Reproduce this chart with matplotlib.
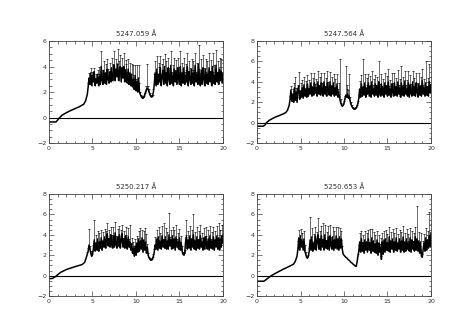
import numpy as np
import matplotlib.pyplot as plt
from matplotlib.ticker import MultipleLocator

titles = ["5247.059 Å", "5247.564 Å", "5250.217 Å", "5250.653 Å"]
ylims = [(-2, 6), (-2, 8), (-2, 8), (-2, 8)]

# ---- 5247.059 ----
smooth_x_1 = [0, 0.8, 1.0, 1.2, 1.5, 2.0, 2.5, 3.0, 3.5, 4.0, 4.2, 4.4]
smooth_y_1 = [-0.35, -0.35, -0.2, -0.02, 0.18, 0.38, 0.55, 0.7, 0.85, 1.05, 1.3, 1.8]
noisy_start_1 = 4.5  # noisy samples every 0.1 up to 20
noisy_y_1 = [
    2.4, 3.1, 2.6, 3.5, 2.5, 3.3, 2.8, 3.6, 2.5, 3.0,
    2.7, 3.4, 2.5, 3.2, 2.6, 4.0, 2.9, 2.6, 3.7, 2.7,
    3.5, 2.6, 3.8, 3.0, 2.7, 3.6, 2.8, 3.9, 2.9, 3.4,
    4.1, 2.9, 3.8, 3.2, 4.2, 2.9, 3.6, 4.0, 2.8, 3.9,
    3.1, 4.0, 2.8, 3.7, 3.3, 2.7, 3.8, 2.6, 3.5, 2.5,
    3.4, 2.4, 3.0, 2.2, 3.3, 2.1, 2.8, 2.0, 3.1, 2.0,
    1.8, 1.65, 1.55, 1.5, 1.6, 1.8, 2.0, 2.2, 2.3, 2.2,
    2.0, 1.8, 1.65, 1.6, 1.7, 2.0, 2.6, 3.5, 2.5, 3.8,
    2.6, 3.4, 2.8, 3.9, 2.5, 3.2, 3.7, 2.6, 4.0, 2.7,
    3.5, 2.5, 3.9, 3.0, 2.6, 4.1, 2.7, 3.3, 2.5, 3.8,
    2.8, 3.6, 2.6, 3.9, 3.1, 2.6, 4.0, 2.5, 3.5, 2.7,
    3.9, 2.6, 3.3, 2.8, 4.0, 2.5, 3.6, 3.0, 2.6, 3.8,
    2.7, 3.5, 2.5, 4.1, 2.8, 3.4, 2.6, 4.2, 2.9, 2.5,
    3.7, 2.6, 3.9, 3.0, 2.5, 3.8, 2.7, 3.4, 2.6, 3.9,
    2.8, 3.6, 2.5, 4.0, 2.7, 3.3, 2.6, 4.1, 2.8, 3.5,
    2.6, 3.8, 2.9, 3.6, 2.7, 3.4,
]
noisy_err_1 = [
    0.3, 0.4, 0.3, 0.4, 0.5, 0.3, 0.4, 0.3, 0.6, 0.4,
    0.7, 0.3, 0.9, 0.8, 0.7, 1.2, 0.8, 0.9, 0.7, 0.8,
    0.7, 0.9, 0.8, 0.8, 0.9, 0.7, 1.0, 0.8, 0.9, 0.8,
    1.1, 0.9, 0.8, 1.0, 1.2, 0.9, 0.8, 0.9, 1.0, 0.8,
    0.9, 1.1, 1.0, 0.8, 0.9, 0.9, 0.8, 0.9, 0.8, 0.9,
    0.8, 0.9, 1.1, 0.8, 0.8, 0.9, 1.3, 0.8, 1.0, 0.7,
    0.2, 0.1, 0.1, 0.1, 0.1, 0.1, 0.2, 0.3, 1.9, 0.3,
    0.2, 0.1, 0.1, 0.1, 0.1, 0.2, 0.8, 0.9, 0.9, 1.0,
    0.8, 0.9, 1.2, 0.9, 0.8, 1.0, 0.9, 0.8, 1.0, 0.9,
    0.9, 1.0, 0.8, 0.9, 1.1, 1.1, 0.9, 0.8, 1.0, 0.9,
    0.9, 0.9, 1.1, 0.8, 0.9, 1.0, 1.2, 0.9, 0.8, 0.9,
    0.8, 1.0, 0.9, 0.9, 1.1, 0.9, 0.8, 0.9, 1.1, 0.8,
    1.0, 0.9, 0.9, 1.0, 0.8, 0.9, 1.0, 1.5, 0.9, 1.0,
    0.9, 0.8, 1.0, 0.9, 0.9, 0.8, 0.9, 1.0, 0.9, 1.2,
    0.8, 0.9, 1.0, 1.1, 0.9, 0.8, 1.0, 1.2, 0.8, 0.9,
    1.0, 0.9, 0.8, 1.0, 0.9, 0.9,
]

# ---- 5247.564 ----
smooth_x_2 = [0, 0.7, 0.9, 1.1, 1.4, 2.0, 2.5, 3.0, 3.3, 3.5, 3.7]
smooth_y_2 = [-0.35, -0.35, -0.25, 0.0, 0.22, 0.5, 0.68, 0.85, 0.98, 1.2, 1.7]
noisy_start_2 = 3.8
noisy_y_2 = [
    2.3, 3.2, 2.1, 2.8, 2.0, 3.4, 2.2, 3.0, 2.0, 3.3,
    3.6, 2.3, 3.1, 2.5, 3.4, 2.4, 3.7, 2.6, 3.2, 2.5,
    3.8, 2.6, 3.3, 2.8, 3.9, 2.6, 3.5, 2.7, 3.9, 2.9,
    3.4, 2.6, 4.0, 2.8, 3.6, 2.7, 3.9, 3.0, 2.6, 4.0,
    2.8, 3.5, 2.6, 3.9, 3.1, 2.7, 4.0, 2.6, 3.6, 2.8,
    3.9, 2.6, 3.4, 2.7, 3.8, 2.5, 3.0, 2.4, 2.0, 1.75,
    1.6, 1.7, 1.9, 2.3, 2.7, 2.5, 2.8, 2.4, 2.6, 2.1,
    1.8, 1.6, 1.45, 1.35, 1.3, 1.35, 1.45, 1.6, 1.9, 2.4,
    3.3, 2.5, 3.8, 2.6, 3.5, 2.7, 3.9, 2.5, 3.4, 2.8,
    3.9, 2.6, 3.6, 2.5, 4.0, 2.8, 3.3, 2.6, 3.8, 2.7,
    3.6, 2.5, 4.0, 2.9, 2.6, 3.8, 2.7, 3.4, 2.5, 3.9,
    2.8, 3.6, 2.6, 4.0, 2.7, 3.3, 2.5, 3.8, 3.0, 2.6,
    3.9, 2.7, 3.5, 2.6, 4.0, 2.8, 3.4, 2.5, 3.9, 2.7,
    3.6, 2.6, 4.1, 2.8, 3.3, 2.6, 3.9, 2.5, 3.7, 2.9,
    2.6, 4.0, 2.7, 3.5, 2.6, 3.9, 3.0, 2.5, 3.8, 2.7,
    3.6, 2.6, 4.1, 2.8, 3.4, 2.6, 3.9, 2.7, 3.5, 2.6,
    4.0, 2.9, 3.6,
]
noisy_err_2 = [
    0.3, 0.4, 0.3, 0.5, 0.4, 0.5, 2.3, 0.4, 0.5, 0.4,
    1.4, 0.7, 0.8, 0.7, 0.8, 0.7, 0.8, 0.8, 0.9, 0.8,
    0.9, 0.8, 0.9, 0.8, 1.0, 0.8, 0.9, 0.8, 1.0, 0.9,
    0.9, 0.8, 1.1, 0.9, 0.9, 0.8, 1.0, 0.9, 0.8, 0.9,
    0.8, 0.9, 0.8, 1.2, 0.9, 0.8, 1.0, 0.8, 0.9, 0.9,
    0.9, 0.8, 0.9, 0.8, 1.0, 0.8, 0.9, 3.8, 0.3, 0.2,
    0.1, 0.1, 0.2, 0.3, 2.9, 0.8, 0.9, 0.8, 2.2, 0.4,
    0.2, 0.1, 0.1, 0.1, 0.1, 0.1, 0.1, 0.1, 0.2, 0.4,
    0.8, 0.9, 0.9, 0.8, 2.7, 0.9, 0.9, 0.8, 1.0, 0.9,
    0.9, 0.8, 1.0, 0.9, 1.1, 0.9, 1.0, 0.8, 0.9, 1.0,
    0.9, 0.8, 2.0, 0.9, 0.8, 1.0, 0.9, 0.9, 0.8, 1.0,
    0.9, 1.0, 0.8, 1.3, 0.9, 0.9, 0.8, 1.1, 0.9, 0.8,
    1.0, 0.9, 0.9, 0.8, 1.2, 0.9, 0.9, 0.8, 1.7, 0.9,
    0.9, 0.8, 1.0, 0.9, 0.9, 0.8, 1.2, 0.9, 1.0, 0.9,
    0.8, 1.1, 0.9, 0.9, 0.8, 1.0, 0.9, 0.8, 1.1, 0.9,
    0.9, 0.8, 1.2, 0.9, 0.9, 0.8, 2.1, 0.9, 0.9, 0.8,
    1.7, 0.9, 0.9,
]

# ---- 5250.217 ----
smooth_x_3 = [0, 0.4, 0.6, 0.8, 1.0, 1.3, 2.0, 3.0, 3.8, 4.1, 4.3]
smooth_y_3 = [-0.3, -0.28, -0.18, -0.05, 0.08, 0.3, 0.6, 0.88, 1.08, 1.3, 1.8]
noisy_start_3 = 4.4
noisy_y_3 = [
    2.1, 2.4, 3.0, 2.6, 2.2, 1.9, 2.1, 2.6, 3.5, 2.4,
    3.2, 2.5, 3.6, 2.4, 3.3, 2.7, 3.7, 2.5, 3.4, 2.8,
    3.8, 2.7, 3.5, 4.1, 2.9, 3.6, 2.8, 4.0, 3.1, 2.7,
    3.9, 2.8, 4.2, 3.0, 2.7, 3.8, 2.9, 4.0, 2.7, 3.5,
    4.1, 2.8, 3.6, 2.7, 3.9, 3.2, 2.6, 3.8, 2.8, 3.3,
    2.5, 3.1, 2.2, 2.7, 1.9, 2.9, 2.0, 3.2, 2.3, 3.6,
    2.4, 3.4, 2.6, 3.7, 2.3, 3.5, 2.5, 3.3, 2.2, 2.8,
    2.0, 1.75, 1.6, 1.5, 1.55, 1.7, 1.9, 2.3, 3.0, 2.6,
    3.6, 2.5, 3.8, 2.7, 3.3, 2.6, 3.9, 2.8, 3.5, 2.7,
    3.8, 2.6, 3.4, 2.6, 4.0, 2.9, 3.5, 2.6, 3.9, 2.7,
    3.6, 2.5, 3.8, 2.8, 3.3, 2.6, 3.7, 2.5, 3.2, 2.4,
    2.1, 2.0, 2.2, 3.3, 3.8, 2.6, 3.5, 2.7, 3.9, 2.5,
    3.6, 2.8, 4.0, 2.6, 3.4, 2.5, 3.8, 2.7, 3.5, 2.6,
    3.9, 2.8, 3.3, 2.5, 3.7, 2.6, 3.8, 3.0, 2.6, 3.6,
    2.5, 3.9, 2.7, 3.4, 2.6, 3.8, 2.5, 3.5, 2.8, 3.9,
    2.6, 3.7, 2.5, 3.6, 2.8, 3.9, 3.2,
]
noisy_err_3 = [
    0.2, 0.3, 1.6, 0.3, 0.2, 0.2, 0.3, 0.4, 2.0, 0.4,
    0.8, 0.7, 0.8, 0.8, 0.9, 0.7, 0.8, 0.8, 0.9, 0.8,
    0.8, 0.9, 0.9, 1.1, 0.8, 0.9, 0.9, 0.8, 0.9, 0.9,
    0.9, 0.8, 1.1, 0.9, 0.9, 0.8, 1.0, 0.9, 0.9, 1.0,
    0.9, 0.9, 0.8, 1.0, 0.9, 0.8, 1.0, 0.9, 0.8, 1.7,
    0.7, 0.6, 0.7, 0.6, 0.6, 0.7, 0.6, 0.7, 0.7, 0.8,
    0.7, 1.3, 0.8, 0.8, 0.8, 0.9, 2.2, 0.8, 0.6, 0.3,
    0.2, 0.1, 0.1, 0.1, 0.1, 0.1, 0.2, 0.3, 0.8, 0.8,
    0.9, 0.8, 1.0, 0.8, 0.9, 0.8, 1.0, 0.8, 1.7, 0.9,
    0.9, 0.8, 0.9, 0.8, 2.1, 0.9, 1.0, 0.8, 0.9, 0.9,
    0.9, 0.9, 1.2, 0.8, 0.9, 0.8, 0.9, 0.8, 0.7, 0.5,
    0.2, 0.2, 0.3, 0.7, 1.7, 0.9, 0.9, 0.8, 1.0, 0.9,
    0.9, 0.8, 2.0, 0.9, 0.9, 0.8, 1.0, 0.9, 0.9, 0.8,
    1.1, 0.9, 0.9, 0.8, 1.0, 0.9, 1.0, 0.9, 0.8, 0.9,
    0.9, 1.0, 0.9, 0.9, 0.8, 1.0, 0.9, 0.9, 0.8, 1.0,
    0.9, 1.5, 0.9, 0.9, 0.8, 1.1, 0.9,
]

# ---- 5250.653 ----
smooth_x_4 = [0, 0.8, 1.0, 1.2, 1.6, 2.0, 3.0, 3.7, 4.2, 4.4, 4.6]
smooth_y_4 = [-0.55, -0.55, -0.42, -0.28, -0.03, 0.17, 0.62, 0.9, 1.12, 1.4, 1.9]
noisy_start_4 = 4.7
noisy_y_4 = [
    2.6, 3.7, 2.5, 3.9, 2.8, 3.4, 2.5, 3.6, 2.4, 2.1,
    1.8, 1.7, 1.9, 2.4, 3.5, 2.5, 3.8, 2.4, 3.2, 2.6,
    3.9, 2.5, 3.4, 4.0, 2.6, 3.6, 2.5, 3.9, 2.8, 3.5,
    2.5, 4.0, 2.7, 3.4, 2.6, 3.8, 2.5, 3.9, 2.9, 2.6,
    3.8, 2.5, 3.5, 2.7, 3.9, 2.6, 3.6, 2.5, 3.8, 2.7,
    3.6, 2.6, 2.1, 2.0, 1.9, 1.8, 1.75, 1.65, 1.55, 1.5,
    1.4, 1.3, 1.25, 1.15, 1.1, 1.0, 0.95, 0.9, 1.3, 1.9,
    2.4, 3.3, 2.3, 3.6, 2.4, 3.2, 2.2, 3.5, 2.5, 3.3,
    2.3, 3.6, 2.5, 3.2, 2.2, 3.7, 2.4, 3.4, 2.3, 3.1,
    2.2, 3.5, 2.0, 3.2, 2.3, 2.8, 1.6, 3.3, 2.1, 3.5,
    2.3, 3.6, 2.5, 3.2, 2.4, 3.8, 2.3, 3.4, 2.6, 3.6,
    2.3, 3.3, 2.5, 3.7, 2.4, 3.2, 2.6, 3.6, 2.3, 3.4,
    2.5, 3.8, 2.3, 3.3, 2.4, 3.6, 2.6, 3.2, 2.4, 3.7,
    2.3, 3.5, 2.6, 3.3, 2.4, 3.8, 2.5, 3.6, 2.4, 3.4,
    2.2, 3.3, 1.9, 1.8, 2.6, 3.2, 2.4, 3.7, 2.5, 3.5,
    2.7, 3.9, 2.8, 4.2,
]
noisy_err_4 = [
    0.8, 0.8, 0.9, 0.7, 0.8, 0.8, 0.9, 0.8, 0.6, 0.2,
    0.1, 0.1, 0.1, 0.3, 2.2, 0.8, 0.9, 0.8, 0.9, 0.8,
    0.9, 0.8, 0.9, 1.6, 0.9, 0.8, 0.9, 1.0, 0.8, 1.7,
    0.9, 1.0, 0.8, 0.9, 0.9, 1.1, 0.8, 1.1, 0.9, 0.8,
    1.0, 0.8, 0.9, 0.8, 0.9, 0.8, 1.2, 0.8, 0.9, 0.8,
    0.8, 0.3, 0.0, 0.0, 0.0, 0.0, 0.0, 0.0, 0.0, 0.0,
    0.0, 0.0, 0.0, 0.0, 0.0, 0.0, 0.0, 0.0, 0.0, 0.2,
    0.6, 0.9, 0.8, 0.8, 0.9, 0.8, 0.8, 0.9, 0.8, 0.9,
    0.8, 0.9, 0.8, 1.4, 0.8, 0.9, 0.8, 0.9, 0.8, 0.9,
    0.8, 0.9, 0.7, 0.8, 0.8, 0.9, 0.3, 0.9, 0.8, 0.9,
    0.8, 0.9, 0.8, 0.9, 0.8, 1.0, 0.8, 0.9, 0.8, 1.0,
    0.8, 0.9, 0.8, 1.0, 0.8, 0.9, 0.8, 0.9, 0.8, 0.9,
    0.8, 1.1, 0.8, 0.9, 0.8, 1.0, 0.8, 0.9, 0.8, 1.0,
    0.8, 0.9, 0.8, 0.9, 0.8, 1.0, 0.8, 3.2, 0.8, 0.9,
    0.7, 0.9, 0.3, 0.3, 0.8, 0.9, 0.8, 1.0, 0.8, 0.9,
    0.9, 2.3, 0.9, 0.9,
]

panels = [
    (smooth_x_1, smooth_y_1, noisy_start_1, noisy_y_1, noisy_err_1),
    (smooth_x_2, smooth_y_2, noisy_start_2, noisy_y_2, noisy_err_2),
    (smooth_x_3, smooth_y_3, noisy_start_3, noisy_y_3, noisy_err_3),
    (smooth_x_4, smooth_y_4, noisy_start_4, noisy_y_4, noisy_err_4),
]

plt.rcParams['font.family'] = 'DejaVu Sans'

fig = plt.figure(figsize=(4.61, 3.29), dpi=100)
fig.patch.set_facecolor('white')

# axes boxes in figure fractions (left, bottom, width, height)
boxes = [
    [0.1063, 0.5653, 0.3774, 0.3100],
    [0.5575, 0.5653, 0.3774, 0.3100],
    [0.1063, 0.1003, 0.3774, 0.3100],
    [0.5575, 0.1003, 0.3774, 0.3100],
]

for box, title, ylim, (sx, sy, x0, ny, ne) in zip(boxes, titles, ylims, panels):
    ax = fig.add_axes(box)
    nx = np.linspace(x0, 20, len(ny))
    ny = np.asarray(ny)
    ne = np.asarray(ne)

    ax.axhline(0, color='black', lw=0.8)
    ax.vlines(nx, ny, ny + ne, color='#333333', lw=0.5)
    mask = ne > 0.05
    ax.plot(nx[mask], (ny + ne)[mask], ls='none', marker='_', ms=1.2,
            mew=0.5, color='black')
    ax.plot(np.concatenate([sx, nx]), np.concatenate([sy, ny]),
            color='black', lw=1.1)

    ax.set_xlim(0, 20)
    ax.set_ylim(*ylim)
    ax.set_title(title, fontsize=5, color='#333333', pad=3.5)
    ax.xaxis.set_major_locator(MultipleLocator(5))
    ax.xaxis.set_minor_locator(MultipleLocator(1))
    ax.yaxis.set_major_locator(MultipleLocator(2))
    ax.yaxis.set_minor_locator(MultipleLocator(0.5))
    ax.tick_params(which='both', direction='in', top=True, right=True,
                   width=0.5, colors='#444444', labelsize=4.5,
                   labelcolor='#333333')
    ax.tick_params(which='major', length=3.5, pad=2)
    ax.tick_params(which='minor', length=1.8)
    for sp in ax.spines.values():
        sp.set_linewidth(0.6)
        sp.set_color('#444444')

fig.savefig('out.png', dpi=100, facecolor='white')
